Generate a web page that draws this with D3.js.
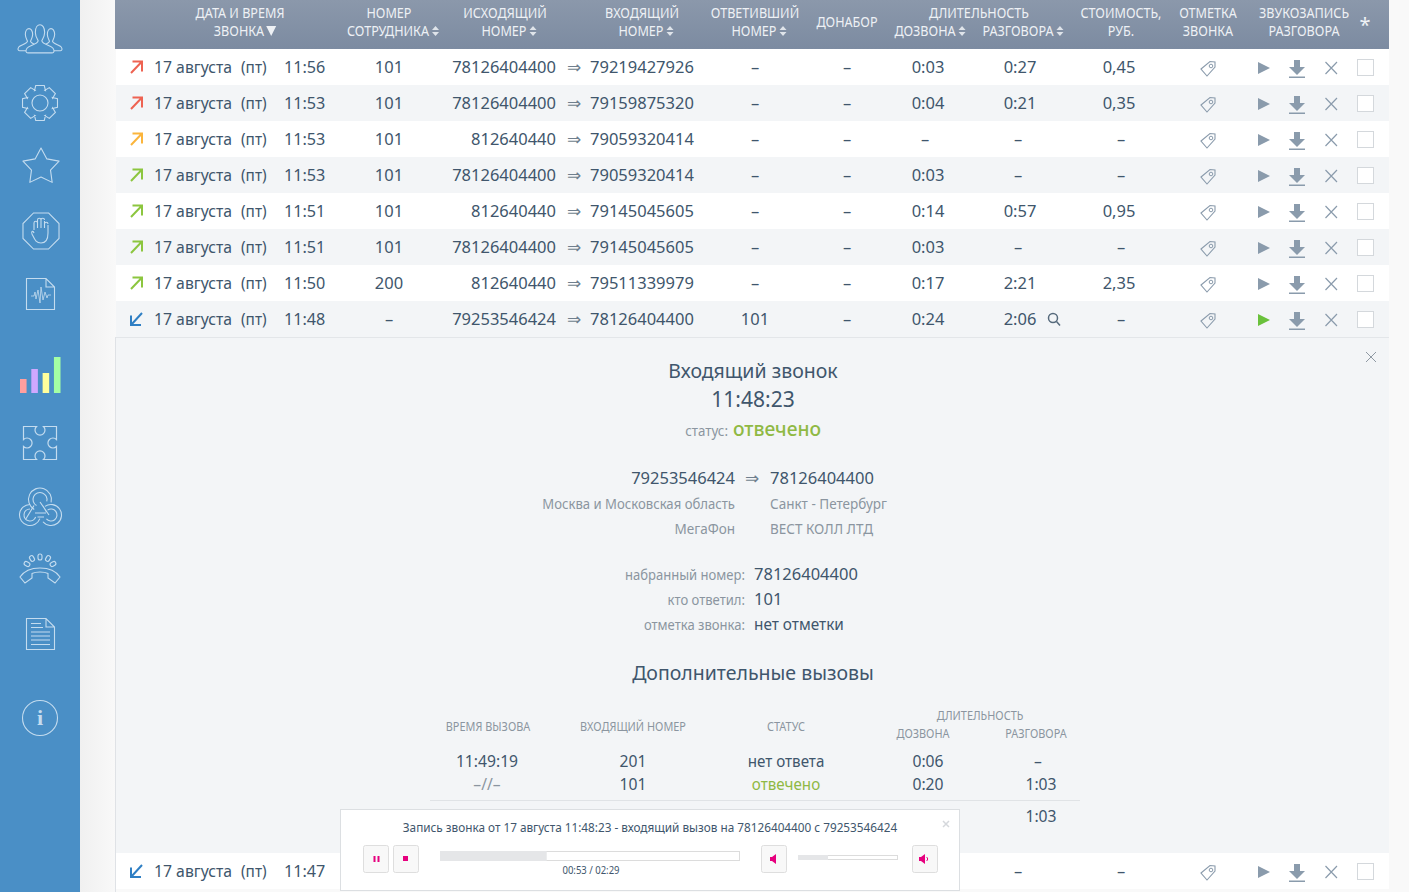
<!DOCTYPE html>
<html>
<head>
<meta charset="utf-8">
<script src="https://cdn.jsdelivr.net/npm/d3@7"></script>
<style>
html, body { margin: 0; padding: 0; background: #f9f9f9; overflow: hidden; }
svg { display: block; }
text { font-family: "Noto Sans", sans-serif; }
</style>
</head>
<body>
<div id="vis"></div>
<script>
// call log rows
const directions = ["out-red", "out-red", "out-orange", "out-green", "out-green", "out-green", "out-green", "in", "in"];
const dates = ["17 августа", "17 августа", "17 августа", "17 августа", "17 августа", "17 августа", "17 августа", "17 августа", "17 августа"];
const times = ["11:56", "11:53", "11:53", "11:53", "11:51", "11:51", "11:50", "11:48", "11:47"];
const staff = ["101", "101", "101", "101", "101", "101", "200", "–", ""];
const callers = ["78126404400", "78126404400", "812640440", "78126404400", "812640440", "78126404400", "812640440", "79253546424", ""];
const callees = ["79219427926", "79159875320", "79059320414", "79059320414", "79145045605", "79145045605", "79511339979", "78126404400", ""];
const answered = ["–", "–", "–", "–", "–", "–", "–", "101", ""];
const redial = ["–", "–", "–", "–", "–", "–", "–", "–", ""];
const ringTimes = ["0:03", "0:04", "–", "0:03", "0:14", "0:03", "0:17", "0:24", ""];
const talkTimes = ["0:27", "0:21", "–", "–", "0:57", "–", "2:21", "2:06", "–"];
const costs = ["0,45", "0,35", "–", "–", "0,95", "–", "2,35", "–", "–"];

// extra calls table
const extraTimes = ["11:49:19", "–//–"];
const extraNumbers = ["201", "101"];
const extraStatus = ["нет ответа", "отвечено"];
const extraRing = ["0:06", "0:20"];
const extraTalk = ["–", "1:03"];
const extraTotal = "1:03";

// little bars in the sidebar
const menuBars = [14, 24, 20, 36];
const menuBarColors = ["#ff9f9f", "#cfa8ff", "#ffff9c", "#a4ffa4"];

// player state
const PLAYED = 53, TOTAL = 149, VOLUME = 0.3;

const WIDTH = 1409, HEIGHT = 892;
const TEXT = "#40566c", GREY = "#8b95a0", ICON = "#8a9bac", GREEN = "#8fb944", PINK = "#e6007e";
const TABLE_L = 116, TABLE_R = 1389;

const FRAME = d3.select("#vis").append("svg")
  .attr("width", WIDTH).attr("height", HEIGHT).attr("viewBox", [0, 0, WIDTH, HEIGHT]);

const defs = FRAME.append("defs");
const headGrad = defs.append("linearGradient").attr("id", "head").attr("x2", 0).attr("y2", 1);
headGrad.append("stop").attr("offset", 0).attr("stop-color", "#8b98ab");
headGrad.append("stop").attr("offset", 1).attr("stop-color", "#7c8ba1");
const sideGrad = defs.append("linearGradient").attr("id", "side");
sideGrad.append("stop").attr("offset", 0).attr("stop-color", "#f0f0f0");
sideGrad.append("stop").attr("offset", 1).attr("stop-color", "#f9f9f9");

// text helper, squeeze < 1 narrows the glyphs a bit (site font is narrower)
function label(g, x, y, str, o) {
  o = o || {};
  const t = g.append("text").attr("x", x).attr("y", y).text(str)
    .attr("font-size", o.size || 17)
    .attr("fill", o.fill || TEXT)
    .attr("text-anchor", o.anchor || "middle");
  if (o.weight) t.attr("font-weight", o.weight);
  if (o.family) t.style("font-family", o.family);
  if (o.squeeze) {
    t.attr("textLength", t.node().getComputedTextLength() * o.squeeze)
     .attr("lengthAdjust", "spacingAndGlyphs");
  }
  return t;
}

// ---- page background and sidebar
FRAME.append("rect").attr("x", 80).attr("width", 36).attr("height", HEIGHT).attr("fill", "url(#side)");
FRAME.append("rect").attr("width", 80).attr("height", HEIGHT).attr("fill", "#4a8fc6");

const side = FRAME.append("g").attr("fill", "none").attr("stroke", "#c4dcef").attr("stroke-width", 1.1);

// people
function person(x, y, s) {
  const g = side.append("g").attr("transform", `translate(${x},${y}) scale(${s})`);
  g.append("path").attr("d", "M-5,-6 C-5,-17 5,-17 5,-6 C5,-2 3,1 2,3 C3,7 12,8 14,11 C16,14 15,16 13,16 L-13,16 C-15,16 -16,14 -14,11 C-12,8 -3,7 -2,3 C-3,1 -5,-2 -5,-6 Z")
    .attr("fill", "#4a8fc6").attr("vector-effect", "non-scaling-stroke");
}
person(29, 39, .73);
person(51, 39, .73);
person(40, 38, .93);

// gear
const gearPts = [];
d3.range(8).forEach(i => {
  const a = i * Math.PI / 4;
  [[-.42, 13.5], [-.24, 18], [.24, 18], [.42, 13.5]].forEach(p => gearPts.push([a + p[0], p[1]]));
});
side.append("path").attr("transform", "translate(40,103)")
  .attr("d", d3.lineRadial().curve(d3.curveLinearClosed)(gearPts));
side.append("circle").attr("cx", 40).attr("cy", 103).attr("r", 8);

// star
const starPts = [];
d3.range(10).forEach(i => starPts.push([i * Math.PI / 5, i % 2 ? 10 : 19]));
side.append("path").attr("transform", "translate(41,167)")
  .attr("stroke-linejoin", "round")
  .attr("d", d3.lineRadial().curve(d3.curveLinearClosed)(starPts));

// stop hand
const octoPts = d3.range(8).map(i => [Math.PI / 8 + i * Math.PI / 4, 19.5]);
side.append("path").attr("transform", "translate(41,231)")
  .attr("d", d3.lineRadial().curve(d3.curveLinearClosed)(octoPts));
side.append("path").attr("transform", "translate(41,231)")
  .attr("d", "M-7,-1 L-7,-8 M-3.5,-3 L-3.5,-11 M0,-3 L0,-12 M3.5,-3 L3.5,-10 M7,2 L7,-6 M-7,-8 A1.7,1.7 0 0 1 -3.5,-8 M-3.5,-11 A1.7,1.7 0 0 1 0,-11 M0,-11 A1.7,1.7 0 0 1 3.5,-11 M3.5,-7 A1.7,1.7 0 0 1 7,-7 M7,2 C7,9 4,12 0,12 C-5,12 -6,9 -9,3 C-10,0 -8,-1 -7,2");

// wave file
side.append("path").attr("d", "M26.5,278.5 H46 L54.5,287 V309.5 H26.5 Z M46,278.5 V287 H54.5");
side.append("path").attr("stroke-width", .8)
  .attr("d", "M31,296 H34 L35,292 L36,299 L38,290 L40,303 L41,287 L43,300 L45,292 L47,298 L48,295 H51");

// mini bars, drawn with scales
const barX = d3.scaleBand().domain(d3.range(menuBars.length)).range([20, 60.5]).paddingInner(.42);
const barH = d3.scaleLinear().domain([0, 36]).range([0, 36]);
FRAME.append("g").selectAll("rect").data(menuBars).join("rect")
  .attr("x", (d, i) => barX(i)).attr("width", barX.bandwidth())
  .attr("y", d => 393 - barH(d)).attr("height", d => barH(d))
  .attr("fill", (d, i) => menuBarColors[i]);

// puzzle
side.append("path").attr("stroke-width", 1.2)
  .attr("d", "M23.5,426.5 H36.5 A5,5 0 1 0 43.5,426.5 H56.5 V439.5 A5,5 0 1 0 56.5,446.5 V459.5 H43.5 A5,5 0 1 0 36.5,459.5 H23.5 V446.5 A5,5 0 1 0 23.5,439.5 Z");

// webhook: three double rings joined by a triangle
const polar = (cx, cy, r, deg) => {
  const a = deg * Math.PI / 180;
  return [cx + r * Math.sin(a), cy - r * Math.cos(a)];
};
function ring(cx, cy, r, a0, a1) {
  const p = polar(cx, cy, r, a0), q = polar(cx, cy, r, a1);
  side.append("path").attr("d", `M${p} A${r},${r} 0 ${a1 - a0 > 180 ? 1 : 0} 1 ${q}`);
}
ring(40, 499.5, 11.5, -150, 105);
ring(40, 499.5, 7, -150, 105);
ring(30, 515, 10.5, 110, 360);
ring(30, 515, 6, 110, 360);
ring(51, 515, 10.5, -35, 230);
ring(51, 515, 6, -35, 230);
side.append("path").attr("d", "M34,505.500 L25.500,519.500 M40,502 L49,515 M37.500,517 H44 M35,513 H46 M46.500,512 L43,506");

// phone
side.append("path").attr("d", "M20,577 C28,565 52,565 60,577 L55,583 L48,578 L48,573.5 C44,571.5 36,571.5 32,573.5 L32,578 L25,583 Z");
[[27,564,-60],[32,558.5,-30],[40,557,0],[48,558.5,30],[53,564,60]].forEach(p => {
  side.append("rect").attr("x", -2).attr("y", -3).attr("width", 4).attr("height", 6).attr("rx", 2)
    .attr("transform", `translate(${p[0]},${p[1]}) rotate(${p[2]})`);
});

// document
side.append("path").attr("d", "M26.5,618.5 H46 L54.5,627 V649.5 H26.5 Z M46,618.5 V627 H54.5");
side.append("path").attr("d", "M31,623.5 H41 M31,627.5 H43 M31,632 H50 M31,636 H50 M31,640 H50 M31,644.5 H50");

// info
side.append("circle").attr("cx", 40).attr("cy", 718).attr("r", 17.5);
label(FRAME, 40, 725, "i", {size: 22, fill: "#c4dcef", weight: "bold", family: "'Liberation Serif', serif"});

// ---- table header
FRAME.append("rect").attr("x", TABLE_L - 1).attr("y", 337).attr("width", 1).attr("height", HEIGHT - 337).attr("fill", "#dfe2e6");
FRAME.append("rect").attr("x", TABLE_L - 1).attr("width", TABLE_R - TABLE_L + 1).attr("height", 49).attr("fill", "url(#head)");

const head = FRAME.append("g");
const HEAD = {size: 14, fill: "#eef1f5", squeeze: .9};
const headLabels = [
  [240, 18, "ДАТА И ВРЕМЯ"], [240, 36, "ЗВОНКА", -1], [389, 18, "НОМЕР"], [389, 36, "СОТРУДНИКА", -1],
  [505, 18, "ИСХОДЯЩИЙ"], [505, 36, "НОМЕР", -1], [642, 18, "ВХОДЯЩИЙ"], [642, 36, "НОМЕР", -1],
  [755, 18, "ОТВЕТИВШИЙ"], [755, 36, "НОМЕР", -1], [847, 27, "ДОНАБОР"],
  [979, 18, "ДЛИТЕЛЬНОСТЬ"], [926, 36, "ДОЗВОНА", -1], [1019, 36, "РАЗГОВОРА", -1],
  [1121, 18, "СТОИМОСТЬ,"], [1121, 36, "РУБ."], [1208, 18, "ОТМЕТКА"], [1208, 36, "ЗВОНКА"],
  [1304, 18, "ЗВУКОЗАПИСЬ"], [1304, 36, "РАЗГОВОРА"]
];
headLabels.forEach(h => {
  const t = label(head, h[0] + (h[3] || 0), h[1], h[2], HEAD);
  if (h[3]) {
    const right = h[0] + h[3] + t.node().getComputedTextLength() / 2 + 2;
    if (h[2] === "ЗВОНКА") {
      head.append("path").attr("d", `M${right},26 h10 l-5,10 Z`).attr("fill", "#eef1f5");
    } else {
      head.append("path").attr("fill", "#dfe4ea")
        .attr("d", `M${right + 1},30 l3.5,-4 l3.5,4 Z M${right + 1},32 l3.5,4 l3.5,-4 Z`);
    }
  }
});
label(head, 1365, 32, "*", {size: 20, fill: "#eef1f5"});

// ---- table rows
const rowIds = d3.range(8);
const rowY = d3.scaleBand().domain(rowIds).range([49, 337]);
const ROW_H = rowY.bandwidth();
const allRows = rowIds.concat([8]);
const rowTop = i => (i < 8 ? rowY(i) : 853);

const arrowColors = {"out-red": "#ee6352", "out-orange": "#fbb53c", "out-green": "#8cc63f", "in": "#2f7fc4"};

const rows = FRAME.append("g").selectAll("g").data(allRows).join("g")
  .attr("transform", i => `translate(0,${rowTop(i)})`);

rows.append("rect").attr("x", TABLE_L).attr("width", TABLE_R - TABLE_L).attr("height", ROW_H)
  .attr("fill", i => (i % 2 && i !== 8 ? "#f3f5f7" : "#fff"));

// direction arrows
rows.append("path")
  .attr("fill", "none").attr("stroke-width", 2)
  .attr("stroke", i => arrowColors[directions[i]])
  .attr("d", i => directions[i] === "in"
    ? "M142,12 L131,24 M131,14.5 V24 H141"
    : "M131,24 L142,12.5 M132.5,12.5 H142 V22.5");

rows.each(function (i) {
  const g = d3.select(this);
  const base = 24;
  const cell = {size: 16.5};
  const dashed = (v, x, dx) => (v === "–" ? x + dx : x);
  label(g, 154, base, dates[i], {anchor: "start", size: 16.5, squeeze: .955});
  label(g, 241, base, "(пт)", {anchor: "start", size: 16.5, squeeze: .93});
  label(g, 284, base, times[i], {anchor: "start", size: 16.5, squeeze: .98});
  if (staff[i]) label(g, 389, base, staff[i], cell);
  if (callers[i]) {
    label(g, 556, base, callers[i], {anchor: "end", size: 16.5});
    label(g, 574, base, "⇒", {size: 17, fill: "#6f7f8e", family: "'DejaVu Sans', sans-serif"});
    label(g, 590, base, callees[i], {anchor: "start", size: 16.5});
  }
  if (answered[i]) label(g, 755, base, answered[i], cell);
  if (redial[i]) label(g, 847, base, redial[i], cell);
  if (ringTimes[i]) label(g, dashed(ringTimes[i], 928, -3), base, ringTimes[i], cell);
  label(g, dashed(talkTimes[i], 1020, -2), base, talkTimes[i], cell);
  label(g, dashed(costs[i], 1119, 2), base, costs[i], cell);

  // tag
  g.append("path").attr("fill", "none").attr("stroke", ICON).attr("stroke-width", 1.1)
    .attr("d", "M1201,20 L1210,12.5 L1215,13 L1215,18 L1207,27 Z");
  g.append("circle").attr("cx", 1211).attr("cy", 17).attr("r", 1.8).attr("fill", "none").attr("stroke", ICON);

  // play
  g.append("path").attr("fill", i === 7 ? "#6ac13c" : ICON).attr("d", "M1258,13 L1270,19 L1258,25 Z");
  // download
  g.append("path").attr("fill", ICON).attr("d", "M1294,11 h6 v7 h5 l-8,8 l-8,-8 h5 Z");
  g.append("rect").attr("x", 1289).attr("y", 27.5).attr("width", 16).attr("height", 1.5).attr("fill", ICON);
  // remove
  g.append("path").attr("stroke", ICON).attr("stroke-width", 1.2).attr("d", "M1325.5,13 L1337,25 M1337,13 L1325.5,25");
  // checkbox
  g.append("rect").attr("x", 1357.5).attr("y", 10.5).attr("width", 16).attr("height", 16)
    .attr("fill", "#fff").attr("stroke", "#d4d8dc");
});

// magnifier next to the opened call
const lens = FRAME.append("g").attr("fill", "none").attr("stroke", "#566a7c").attr("stroke-width", 1.5);
lens.append("circle").attr("cx", 1053).attr("cy", 318).attr("r", 4.5);
lens.append("path").attr("d", "M1056.5,321.5 L1060,325.5");

// ---- details of the opened call
const panel = FRAME.append("g");
panel.append("rect").attr("x", TABLE_L).attr("y", 337).attr("width", TABLE_R - TABLE_L).attr("height", 516).attr("fill", "#f3f5f7");
panel.append("rect").attr("x", TABLE_L).attr("y", 337).attr("width", TABLE_R - TABLE_L).attr("height", 1).attr("fill", "#e3e6e9");
panel.append("path").attr("stroke", "#8f99a3").attr("d", "M1366,352 L1376,362 M1376,352 L1366,362");

label(panel, 753, 378, "Входящий звонок", {size: 20, squeeze: .975});
label(panel, 753, 407, "11:48:23", {size: 21});
label(panel, 728, 436, "статус:", {size: 14.5, fill: GREY, anchor: "end", squeeze: .92});
label(panel, 733, 436, "отвечено", {size: 20, fill: GREEN, anchor: "start", weight: 500, squeeze: .96});

const R1 = 735, L1 = 770;
label(panel, R1, 484, callers[7], {anchor: "end", size: 16.5});
label(panel, 752, 484, "⇒", {size: 17, fill: "#6f7f8e", family: "'DejaVu Sans', sans-serif"});
label(panel, L1, 484, callees[7], {anchor: "start", size: 16.5});
label(panel, R1, 509, "Москва и Московская область", {anchor: "end", size: 15, fill: GREY, squeeze: .875});
label(panel, L1, 509, "Санкт - Петербург", {anchor: "start", size: 15, fill: GREY, squeeze: .9});
label(panel, R1, 534, "МегаФон", {anchor: "end", size: 15, fill: GREY, squeeze: .9});
label(panel, L1, 534, "ВЕСТ КОЛЛ ЛТД", {anchor: "start", size: 15, fill: GREY, squeeze: .9});

[["набранный номер:", "78126404400", 580, 1], ["кто ответил:", "101", 605, 1], ["отметка звонка:", "нет отметки", 630, .93]].forEach(d => {
  label(panel, 745, d[2], d[0], {anchor: "end", size: 14.5, fill: GREY, squeeze: .9});
  label(panel, 754, d[2], d[1], {anchor: "start", size: 16.5, squeeze: d[3]});
});

label(panel, 753, 680, "Дополнительные вызовы", {size: 20, squeeze: .975});

const SUB = {size: 12, fill: GREY, squeeze: .91};
label(panel, 488, 731, "ВРЕМЯ ВЫЗОВА", SUB);
label(panel, 633, 731, "ВХОДЯЩИЙ НОМЕР", SUB);
label(panel, 786, 731, "СТАТУС", SUB);
label(panel, 980, 720, "ДЛИТЕЛЬНОСТЬ", SUB);
label(panel, 923, 738, "ДОЗВОНА", SUB);
label(panel, 1036, 738, "РАЗГОВОРА", SUB);

const extraY = d3.scalePoint().domain(d3.range(extraTimes.length)).range([767, 790]);
const extra = panel.append("g").selectAll("g").data(d3.range(extraTimes.length)).join("g");
extra.each(function (i) {
  const g = d3.select(this);
  const y = extraY(i);
  label(g, 487, y, extraTimes[i], {size: 16.5, squeeze: .95, fill: i ? GREY : TEXT});
  label(g, 633, y, extraNumbers[i], {size: 16.5, squeeze: .95});
  label(g, 786, y, extraStatus[i], {size: 16.5, squeeze: .92, fill: i ? GREEN : TEXT});
  label(g, 928, y, extraRing[i], {size: 16.5, squeeze: .95});
  label(g, i ? 1041 : 1038, y, extraTalk[i], {size: 16.5, squeeze: .95});
});
panel.append("rect").attr("x", 430).attr("y", 800).attr("width", 650).attr("height", 1).attr("fill", "#e0e3e6");
label(panel, 1041, 822, extraTotal, {size: 16.5, squeeze: .95});

// ---- audio player
const player = FRAME.append("g");
player.append("rect").attr("x", 340.5).attr("y", 809.5).attr("width", 619).attr("height", 81)
  .attr("fill", "#fff").attr("stroke", "#dcdfe2");
label(player, 650, 832, "Запись звонка от 17 августа 11:48:23 - входящий вызов на 78126404400 с 79253546424", {size: 12, squeeze: .98});
player.append("path").attr("stroke", "#d5d8dc").attr("stroke-width", 1.5).attr("d", "M943,821 L949,827 M949,821 L943,827");

function button(x, w) {
  player.append("rect").attr("x", x + .5).attr("y", 845.5).attr("width", w).attr("height", 27).attr("rx", 2)
    .attr("fill", "#f8f8f8").attr("stroke", "#dedede");
}
button(363, 25); button(393, 25); button(761, 25); button(912, 25);
player.append("path").attr("fill", PINK).attr("d", "M373.5,856 h2 v6 h-2 Z M377.5,856 h2 v6 h-2 Z");
player.append("rect").attr("x", 403).attr("y", 856).attr("width", 5).attr("height", 5).attr("fill", PINK);
player.append("path").attr("fill", PINK).attr("d", "M770,857 h2 l4,-3 v10 l-4,-3 h-2 Z");
player.append("path").attr("fill", PINK).attr("d", "M919,857 h2 l4,-3 v10 l-4,-3 h-2 Z");
player.append("path").attr("fill", "none").attr("stroke", PINK).attr("d", "M926.5,857 C928,858 928,860 926.5,861");

const seekX = d3.scaleLinear().domain([0, TOTAL]).range([440, 740]);
player.append("rect").attr("x", seekX(0) + .5).attr("y", 851.5).attr("width", seekX(TOTAL) - seekX(0) - 1).attr("height", 9)
  .attr("fill", "#fff").attr("stroke", "#dcdcdc");
player.append("rect").attr("x", seekX(0)).attr("y", 851).attr("width", seekX(PLAYED) - seekX(0)).attr("height", 10).attr("fill", "#e5e6e8");
label(player, 591, 874, "00:53 / 02:29", {size: 10, squeeze: .95});

const volX = d3.scaleLinear().domain([0, 1]).range([798, 898]);
player.append("rect").attr("x", volX(0) + .5).attr("y", 855.5).attr("width", 99).attr("height", 4)
  .attr("fill", "#fff").attr("stroke", "#dcdcdc");
player.append("rect").attr("x", volX(0)).attr("y", 855).attr("width", volX(VOLUME) - volX(0)).attr("height", 5).attr("fill", "#e5e6e8");
</script>
</body>
</html>
